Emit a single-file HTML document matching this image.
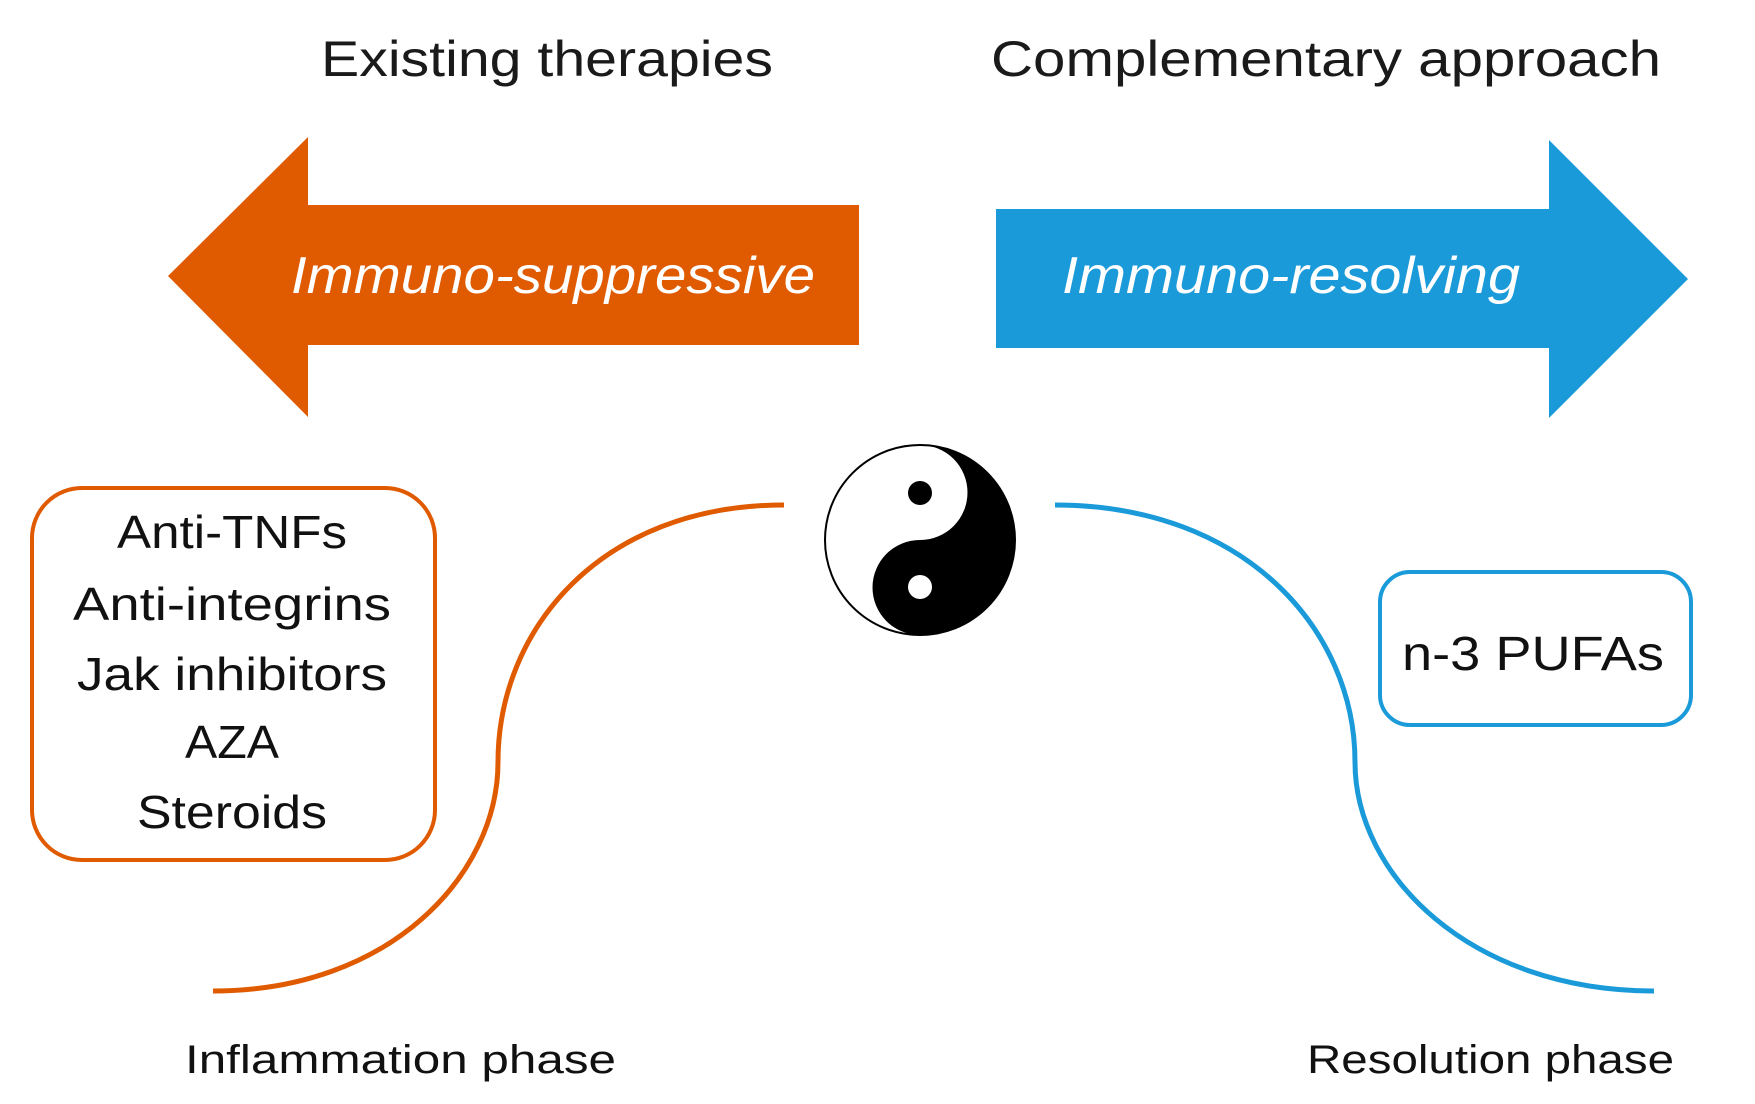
<!DOCTYPE html>
<html><head><meta charset="utf-8"><style>html,body{margin:0;padding:0;background:#fff}svg{display:block}</style></head>
<body>
<svg width="1755" height="1104" viewBox="0 0 1755 1104" xmlns="http://www.w3.org/2000/svg" font-family="'Liberation Sans', 'DejaVu Sans', sans-serif">
<text x="321" y="76" font-size="50" fill="#1a1a1a" textLength="452" lengthAdjust="spacingAndGlyphs">Existing therapies</text>
<text x="991" y="76" font-size="50" fill="#1a1a1a" textLength="670" lengthAdjust="spacingAndGlyphs">Complementary approach</text>

<polygon points="168,276 308,137 308,205 859,205 859,345 308,345 308,417" fill="#e05a00"/>
<polygon points="996,209 1549,209 1549,140 1688,279 1549,418 1549,348 996,348" fill="#1a9ad9"/>
<text x="291" y="293" font-size="52" font-style="italic" fill="#fff" textLength="524" lengthAdjust="spacingAndGlyphs">Immuno-suppressive</text>
<text x="1062" y="293" font-size="52" font-style="italic" fill="#fff" textLength="458" lengthAdjust="spacingAndGlyphs">Immuno-resolving</text>

<g transform="translate(920,540)">
<circle r="95" fill="#fff" stroke="#000" stroke-width="2"/>
<path d="M0,-95 A95,95 0 0 1 0,95 A47.5,47.5 0 0 1 0,0 A47.5,47.5 0 0 0 0,-95 Z" fill="#000"/>
<circle cy="-47" r="12" fill="#000"/>
<circle cy="47" r="12" fill="#fff"/>
</g>

<path d="M213,991 C390,991 498,875 498,762 C498,630 600,505 784,505" fill="none" stroke="#e05a00" stroke-width="5"/>
<path d="M1055,505 C1245,505 1355,630 1355,762 C1355,875 1470,991 1654,991" fill="none" stroke="#1a9ad9" stroke-width="5"/>

<rect x="32" y="488" width="403" height="372" rx="50" fill="#fff" stroke="#e05a00" stroke-width="4"/>
<g font-size="46" fill="#111" text-anchor="middle">
<text x="232" y="548" textLength="230" lengthAdjust="spacingAndGlyphs">Anti-TNFs</text>
<text x="232" y="620" textLength="318" lengthAdjust="spacingAndGlyphs">Anti-integrins</text>
<text x="232" y="690" textLength="310" lengthAdjust="spacingAndGlyphs">Jak inhibitors</text>
<text x="232" y="758" textLength="94" lengthAdjust="spacingAndGlyphs">AZA</text>
<text x="232" y="828" textLength="190" lengthAdjust="spacingAndGlyphs">Steroids</text>
</g>

<rect x="1380" y="572" width="311" height="153" rx="30" fill="#fff" stroke="#1a9ad9" stroke-width="4"/>
<text x="1402" y="670" font-size="48" fill="#111" textLength="262" lengthAdjust="spacingAndGlyphs">n-3 PUFAs</text>

<text x="185" y="1073" font-size="40" fill="#111" textLength="431" lengthAdjust="spacingAndGlyphs">Inflammation phase</text>
<text x="1307" y="1073" font-size="40" fill="#111" textLength="367" lengthAdjust="spacingAndGlyphs">Resolution phase</text>
</svg>
</body></html>
